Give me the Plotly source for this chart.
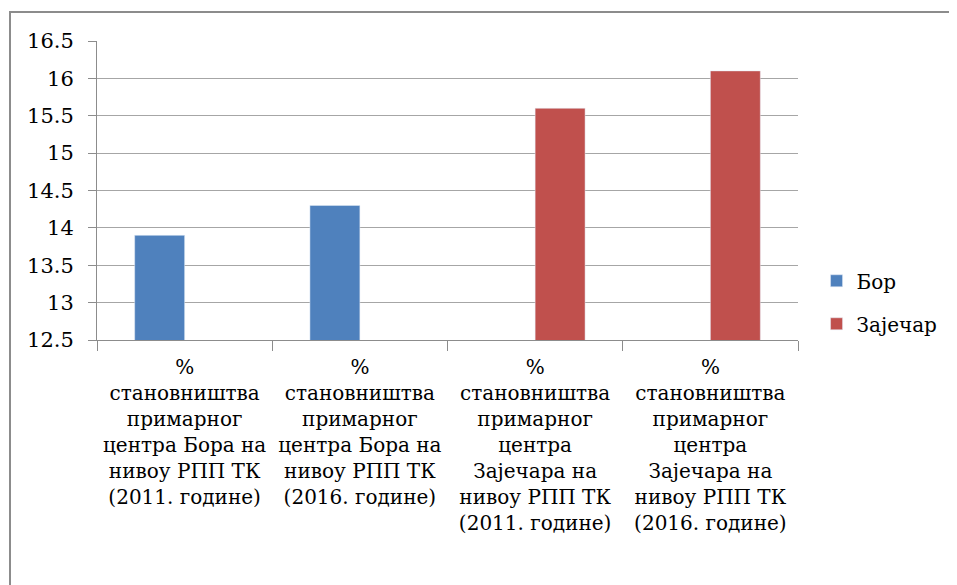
import plotly.graph_objects as go

categories = [
    "%<br>становништва<br>примарног<br>центра Бора на<br>нивоу РПП ТК<br>(2011. године)",
    "%<br>становништва<br>примарног<br>центра Бора на<br>нивоу РПП ТК<br>(2016. године)",
    "%<br>становништва<br>примарног<br>центра<br>Зајечара на<br>нивоу РПП ТК<br>(2011. године)",
    "%<br>становништва<br>примарног<br>центра<br>Зајечара на<br>нивоу РПП ТК<br>(2016. године)",
]
bor = [13.9, 14.3, None, None]
zajecar = [None, None, 15.6, 16.1]
y_ticks = [12.5, 13, 13.5, 14, 14.5, 15, 15.5, 16, 16.5]

font = "DejaVu Serif"
grey = "#8c8c8c"

fig = go.Figure()
fig.add_trace(go.Bar(name="Бор", x=categories, y=bor, marker_color="#4F81BD",
                     legendgroup="a"))
fig.add_trace(go.Bar(name="Зајечар", x=categories, y=zajecar, marker_color="#C0504D",
                     legendgroup="b"))

# page has an 8px body margin, so the figure is a bit smaller than the window
fig.update_layout(
    width=949, height=577,
    margin=dict(l=89, r=159, t=33, b=245, autoexpand=False),
    paper_bgcolor="white", plot_bgcolor="white",
    font=dict(family=font, size=20, color="black"),
    barmode="group", bargap=0.43, bargroupgap=0,
    legend=dict(xref="container", yref="container", x=0.852, y=0.49,
                xanchor="left", yanchor="middle",
                tracegroupgap=14, font=dict(family=font, size=20),
                traceorder="grouped"),
    shapes=[dict(type="rect", xref="paper", yref="paper",
                 x0=-0.1241, x1=1.25, y0=-0.85, y1=1.097,
                 line=dict(color=grey, width=2))],
)
fig.update_xaxes(showline=True, linecolor=grey, linewidth=1, ticks="outside",
                 tickson="boundaries", ticklen=10, tickcolor=grey,
                 ticklabelstandoff=9, automargin=False,
                 tickfont=dict(family=font, size=20), tickangle=0)
fig.update_yaxes(range=[12.5, 16.5], tickvals=y_ticks,
                 ticktext=[f"{v:g}" for v in y_ticks],
                 showline=True, linecolor=grey, linewidth=1, ticks="outside",
                 ticklen=8, tickcolor=grey, gridcolor="#a6a6a6",
                 ticklabelstandoff=10, automargin=False,
                 tickfont=dict(family=font, size=21))

fig.write_html("out.html")
